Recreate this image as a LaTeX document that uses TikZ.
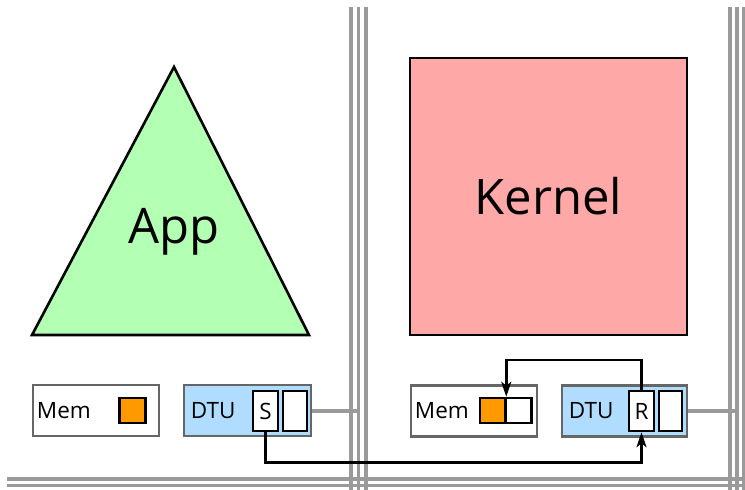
\documentclass[tikz,border=0pt]{standalone}
\usepackage{fontspec}
\setmainfont{Open Sans}
\usetikzlibrary{calc,arrows.meta}

\definecolor{appgreen}{HTML}{B3FFB3}
\definecolor{kernelred}{HTML}{FFA8A8}
\definecolor{dtublue}{HTML}{B0DDFF}
\definecolor{memorange}{HTML}{FF9900}
\definecolor{busgray}{HTML}{9A9A9A}
\definecolor{boxgray}{HTML}{666666}

\tikzset{
	unitbox/.style={draw=boxgray, line width=2.5pt, inner sep=0pt, minimum height=51pt},
	slotbox/.style={draw=black, fill=white, line width=2.5pt, inner sep=0pt, minimum width=25pt, minimum height=40pt},
	cellbox/.style={draw=black, line width=2.5pt, inner sep=0pt, minimum width=25pt, minimum height=25pt},
	bus/.style={draw=busgray, line width=3.3pt},
	flow/.style={draw=black, line width=2.5pt, -{Stealth[length=15pt, width=10pt, inset=4pt]}},
	bigtext/.style={font=\fontsize{49}{52}\selectfont},
	smalltext/.style={font=\fontsize{22.5}{26}\selectfont, inner sep=0pt}
}

\begin{document}
\begin{tikzpicture}[x=1pt, y=-1pt]
		%%%%% START %%%%%
		\useasboundingbox (0, 0) rectangle (745, 490);
		
		% bus lines
		\foreach \x in {351, 358.5, 366, 730, 737, 744}
			\draw[bus] (\x, 7) -- (\x, 495);
		\foreach \y in {479, 485.5, 492}
			\draw[bus] (7, \y) -- (750, \y);
		
		% application tile
		\draw[fill=appgreen, line width=2.6pt, line join=miter] (174, 67) -- (309, 335) -- (32, 335) -- cycle;
		\node[bigtext] (app) at (174, 232) {App};
		
		\node[unitbox, minimum width=126pt] (mem1) at (96, 410.5) {};
		\node[smalltext, anchor=west] (memtext1) at ($(mem1.west)+(5, 0)$) {Mem};
		\node[cellbox, fill=memorange, minimum width=26pt] (buf1) at (132.5, 410.5) {};
		
		\node[unitbox, fill=dtublue, minimum width=127pt] (dtu1) at (247.5, 410.5) {};
		\node[smalltext, anchor=west] (dtutext1) at ($(dtu1.west)+(8, 0)$) {DTU};
		\node[slotbox, smalltext] (send) at (265.5, 411) {S};
		\node[slotbox, minimum width=24pt] (slot1) at (295, 411) {};
		
		% kernel tile
		\node[draw=black, fill=kernelred, line width=2.6pt, minimum width=277pt, minimum height=277pt, bigtext] (kernel) at (548.5, 196.5) {Kernel};
		
		\node[unitbox, minimum width=126pt] (mem2) at (474, 411) {};
		\node[smalltext, anchor=west] (memtext2) at ($(mem2.west)+(5, 0)$) {Mem};
		\node[cellbox, fill=memorange] (buf2) at (492.5, 410.5) {};
		\node[cellbox, fill=white, minimum width=26pt] (free2) at (518.5, 410.5) {};
		
		\node[unitbox, fill=dtublue, minimum width=125pt] (dtu2) at (624.5, 411) {};
		\node[smalltext, anchor=west] (dtutext2) at ($(dtu2.west)+(8, 0)$) {DTU};
		\node[slotbox, smalltext] (recv) at (641.5, 411) {R};
		\node[slotbox, minimum width=23pt] (slot2) at (670.5, 411) {};
		
		% links to the bus
		\coordinate (link1) at (358.5, 410.5);
		\coordinate (link2) at (737, 411);
		\draw[bus, line width=4pt] (dtu1.east) -- (link1);
		\draw[bus, line width=4pt] (dtu2.east) -- (link2);
		
		% message path
		\draw[flow] (send.south) -- ++(0, 30) -| (recv.south);
		\draw[flow] (recv.north) -- ++(0, -30) -| (buf2.north east);
		
		%%%%% END %%%%%
	\end{tikzpicture}
\end{document}
